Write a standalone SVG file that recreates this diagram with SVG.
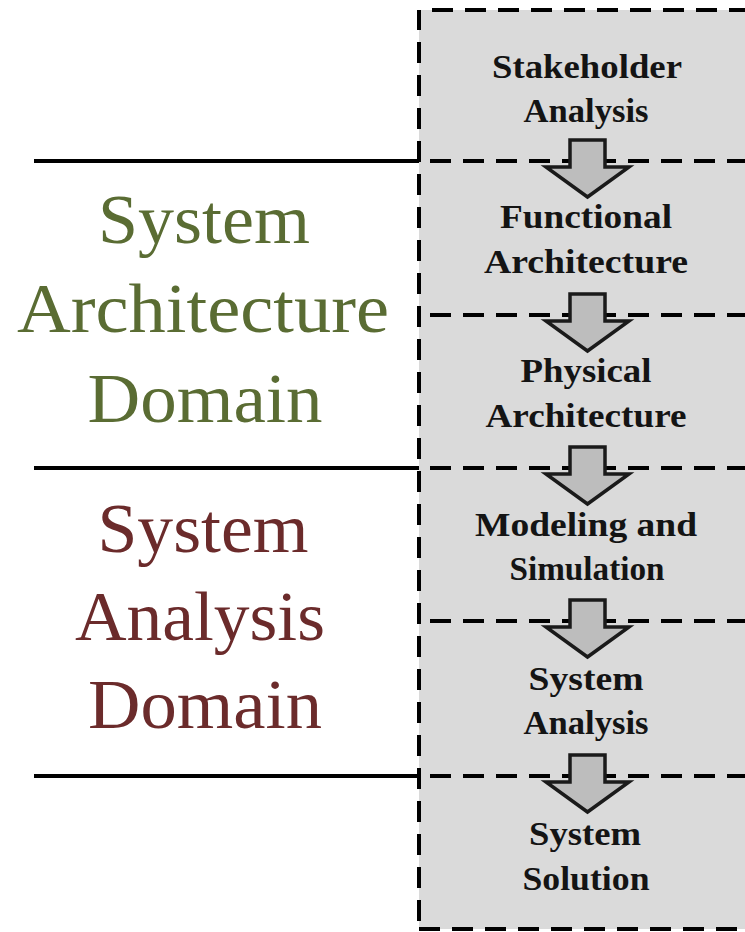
<svg xmlns="http://www.w3.org/2000/svg" width="745" height="932" viewBox="0 0 745 932">
<defs>
<style>
.dom{font-family:"Liberation Serif","Times New Roman",serif;font-size:70px;text-anchor:middle}
.green{fill:#5a6c33}
.red{fill:#6b2b2b}
.lbl{font-family:"Liberation Serif","Times New Roman",serif;font-size:34px;font-weight:bold;text-anchor:middle;fill:#141414}
.solid{stroke:#000;stroke-width:4;fill:none}
.dash{stroke:#000;stroke-width:4;stroke-dasharray:21 12;fill:none}
.arrow{fill:#bdbdbd;stroke:#1a1a1a;stroke-width:3.5;stroke-linejoin:miter}
</style>
</defs>
<rect width="745" height="932" fill="#fff"/>
<g id="panel">
<rect x="419" y="10" width="340" height="919" fill="#dadada"/>
<line class="dash" x1="419" y1="10" x2="419" y2="929" style="stroke-dashoffset:1"/>
<line class="dash" x1="432" y1="10" x2="745" y2="10"/>
<line class="dash" x1="419" y1="929" x2="745" y2="929"/>
</g>
<g id="connectors">
<line class="solid" x1="34" y1="161" x2="419" y2="161"/>
<line class="solid" x1="34" y1="468" x2="419" y2="468"/>
<line class="solid" x1="34" y1="776" x2="419" y2="776"/>
<line class="dash" x1="430" y1="161" x2="745" y2="161"/>
<line class="dash" x1="430" y1="315" x2="745" y2="315"/>
<line class="dash" x1="430" y1="468" x2="745" y2="468"/>
<line class="dash" x1="430" y1="621" x2="745" y2="621"/>
<line class="dash" x1="430" y1="776" x2="745" y2="776"/>
<polygon class="arrow" points="570,140 605,140 605,167 629,167 587.5,197 546,167 570,167"/>
<polygon class="arrow" points="570,294 605,294 605,321 629,321 587.5,351 546,321 570,321"/>
<polygon class="arrow" points="570,447 605,447 605,474 629,474 587.5,504 546,474 570,474"/>
<polygon class="arrow" points="570,600 605,600 605,627 629,627 587.5,657 546,627 570,627"/>
<polygon class="arrow" points="570,755 605,755 605,782 629,782 587.5,812 546,782 570,782"/>
</g>
<g id="domain-architecture">
<text class="dom green" x="204" y="243" textLength="212" lengthAdjust="spacingAndGlyphs">System</text>
<text class="dom green" x="203" y="332" textLength="372" lengthAdjust="spacingAndGlyphs">Architecture</text>
<text class="dom green" x="205" y="422" textLength="235" lengthAdjust="spacingAndGlyphs">Domain</text>
</g>
<g id="domain-analysis">
<text class="dom red" x="203" y="552" textLength="211" lengthAdjust="spacingAndGlyphs">System</text>
<text class="dom red" x="200" y="640" textLength="250" lengthAdjust="spacingAndGlyphs">Analysis</text>
<text class="dom red" x="205" y="728" textLength="234" lengthAdjust="spacingAndGlyphs">Domain</text>
</g>
<g id="stakeholder-analysis">
<text class="lbl" x="587" y="78" textLength="190" lengthAdjust="spacingAndGlyphs">Stakeholder</text>
<text class="lbl" x="586" y="122" textLength="125" lengthAdjust="spacingAndGlyphs">Analysis</text>
</g>
<g id="functional-architecture">
<text class="lbl" x="586" y="228" textLength="172" lengthAdjust="spacingAndGlyphs">Functional</text>
<text class="lbl" x="586" y="273" textLength="204" lengthAdjust="spacingAndGlyphs">Architecture</text>
</g>
<g id="physical-architecture">
<text class="lbl" x="586" y="382" textLength="131" lengthAdjust="spacingAndGlyphs">Physical</text>
<text class="lbl" x="586" y="427" textLength="201" lengthAdjust="spacingAndGlyphs">Architecture</text>
</g>
<g id="modeling-simulation">
<text class="lbl" x="586" y="536" textLength="222" lengthAdjust="spacingAndGlyphs">Modeling and</text>
<text class="lbl" x="587" y="580" textLength="155" lengthAdjust="spacingAndGlyphs">Simulation</text>
</g>
<g id="system-analysis">
<text class="lbl" x="586" y="690" textLength="115" lengthAdjust="spacingAndGlyphs">System</text>
<text class="lbl" x="586" y="734" textLength="125" lengthAdjust="spacingAndGlyphs">Analysis</text>
</g>
<g id="system-solution">
<text class="lbl" x="585" y="845" textLength="112" lengthAdjust="spacingAndGlyphs">System</text>
<text class="lbl" x="586" y="890" textLength="127" lengthAdjust="spacingAndGlyphs">Solution</text>
</g>
</svg>
